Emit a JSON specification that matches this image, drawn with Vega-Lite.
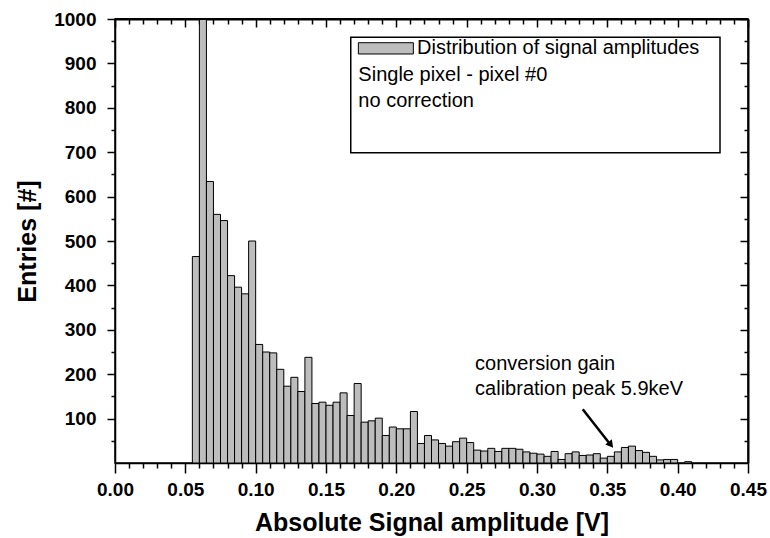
{
  "$schema": "https://vega.github.io/schema/vega-lite/v6.json",
  "width": 633,
  "height": 444,
  "autosize": {"type": "none"},
  "padding": {"left": 115, "top": 19, "right": 22, "bottom": 75},
  "background": "white",
  "config": {
    "view": {"stroke": "black", "strokeWidth": 1.5},
    "font": "Liberation Sans",
    "axis": {"grid": false, "domainColor": "black", "tickColor": "black", "domainWidth": 1.5, "tickWidth": 1.5, "labelColor": "black", "titleColor": "black", "labelFont": "Liberation Sans", "titleFont": "Liberation Sans"}
  },
  "datasets": {
    "hist": [
      {"bin_start": 0.055, "bin_end": 0.060, "entries": 465},
      {"bin_start": 0.060, "bin_end": 0.065, "entries": 1000},
      {"bin_start": 0.065, "bin_end": 0.070, "entries": 634},
      {"bin_start": 0.070, "bin_end": 0.075, "entries": 560},
      {"bin_start": 0.075, "bin_end": 0.080, "entries": 546},
      {"bin_start": 0.080, "bin_end": 0.085, "entries": 422},
      {"bin_start": 0.085, "bin_end": 0.090, "entries": 396},
      {"bin_start": 0.090, "bin_end": 0.095, "entries": 381},
      {"bin_start": 0.095, "bin_end": 0.100, "entries": 500},
      {"bin_start": 0.100, "bin_end": 0.105, "entries": 267},
      {"bin_start": 0.105, "bin_end": 0.110, "entries": 250},
      {"bin_start": 0.110, "bin_end": 0.115, "entries": 248},
      {"bin_start": 0.115, "bin_end": 0.120, "entries": 211},
      {"bin_start": 0.120, "bin_end": 0.125, "entries": 173},
      {"bin_start": 0.125, "bin_end": 0.130, "entries": 193},
      {"bin_start": 0.130, "bin_end": 0.135, "entries": 161},
      {"bin_start": 0.135, "bin_end": 0.140, "entries": 238},
      {"bin_start": 0.140, "bin_end": 0.145, "entries": 134},
      {"bin_start": 0.145, "bin_end": 0.150, "entries": 137},
      {"bin_start": 0.150, "bin_end": 0.155, "entries": 130},
      {"bin_start": 0.155, "bin_end": 0.160, "entries": 137},
      {"bin_start": 0.160, "bin_end": 0.165, "entries": 158},
      {"bin_start": 0.165, "bin_end": 0.170, "entries": 107},
      {"bin_start": 0.170, "bin_end": 0.175, "entries": 179},
      {"bin_start": 0.175, "bin_end": 0.180, "entries": 92},
      {"bin_start": 0.180, "bin_end": 0.185, "entries": 95},
      {"bin_start": 0.185, "bin_end": 0.190, "entries": 101},
      {"bin_start": 0.190, "bin_end": 0.195, "entries": 62},
      {"bin_start": 0.195, "bin_end": 0.200, "entries": 81},
      {"bin_start": 0.200, "bin_end": 0.205, "entries": 77},
      {"bin_start": 0.205, "bin_end": 0.210, "entries": 77},
      {"bin_start": 0.210, "bin_end": 0.215, "entries": 116},
      {"bin_start": 0.215, "bin_end": 0.220, "entries": 44},
      {"bin_start": 0.220, "bin_end": 0.225, "entries": 62},
      {"bin_start": 0.225, "bin_end": 0.230, "entries": 52},
      {"bin_start": 0.230, "bin_end": 0.235, "entries": 44},
      {"bin_start": 0.235, "bin_end": 0.240, "entries": 38},
      {"bin_start": 0.240, "bin_end": 0.245, "entries": 48},
      {"bin_start": 0.245, "bin_end": 0.250, "entries": 56},
      {"bin_start": 0.250, "bin_end": 0.255, "entries": 46},
      {"bin_start": 0.255, "bin_end": 0.260, "entries": 29},
      {"bin_start": 0.260, "bin_end": 0.265, "entries": 27},
      {"bin_start": 0.265, "bin_end": 0.270, "entries": 33},
      {"bin_start": 0.270, "bin_end": 0.275, "entries": 26},
      {"bin_start": 0.275, "bin_end": 0.280, "entries": 33},
      {"bin_start": 0.280, "bin_end": 0.285, "entries": 33},
      {"bin_start": 0.285, "bin_end": 0.290, "entries": 31},
      {"bin_start": 0.290, "bin_end": 0.295, "entries": 25},
      {"bin_start": 0.295, "bin_end": 0.300, "entries": 22},
      {"bin_start": 0.300, "bin_end": 0.305, "entries": 20},
      {"bin_start": 0.305, "bin_end": 0.310, "entries": 15},
      {"bin_start": 0.310, "bin_end": 0.315, "entries": 26},
      {"bin_start": 0.315, "bin_end": 0.320, "entries": 8},
      {"bin_start": 0.320, "bin_end": 0.325, "entries": 21},
      {"bin_start": 0.325, "bin_end": 0.330, "entries": 25},
      {"bin_start": 0.330, "bin_end": 0.335, "entries": 17},
      {"bin_start": 0.335, "bin_end": 0.340, "entries": 18},
      {"bin_start": 0.340, "bin_end": 0.345, "entries": 21},
      {"bin_start": 0.345, "bin_end": 0.350, "entries": 11},
      {"bin_start": 0.350, "bin_end": 0.355, "entries": 15},
      {"bin_start": 0.355, "bin_end": 0.360, "entries": 25},
      {"bin_start": 0.360, "bin_end": 0.365, "entries": 35},
      {"bin_start": 0.365, "bin_end": 0.370, "entries": 38},
      {"bin_start": 0.370, "bin_end": 0.375, "entries": 28},
      {"bin_start": 0.375, "bin_end": 0.380, "entries": 24},
      {"bin_start": 0.380, "bin_end": 0.385, "entries": 15},
      {"bin_start": 0.385, "bin_end": 0.390, "entries": 7},
      {"bin_start": 0.390, "bin_end": 0.395, "entries": 8},
      {"bin_start": 0.395, "bin_end": 0.400, "entries": 8},
      {"bin_start": 0.405, "bin_end": 0.410, "entries": 3}
    ]
  },
  "resolve": {"axis": {"x": "independent", "y": "independent"}},
  "layer": [
    {
      "data": {"name": "hist"},
      "mark": {"type": "rect", "fill": "#bdbdbd", "stroke": "black", "strokeWidth": 1},
      "encoding": {
        "x": {"field": "bin_start", "type": "quantitative", "scale": {"domain": [0, 0.45], "nice": false, "zero": false},
          "axis": {"orient": "bottom",
            "values": [0,0.01,0.02,0.03,0.04,0.05,0.06,0.07,0.08,0.09,0.1,0.11,0.12,0.13,0.14,0.15,0.16,0.17,0.18,0.19,0.2,0.21,0.22,0.23,0.24,0.25,0.26,0.27,0.28,0.29,0.3,0.31,0.32,0.33,0.34,0.35,0.36,0.37,0.38,0.39,0.4,0.41,0.42,0.43,0.44,0.45],
            "labelExpr": "round(datum.value*100) % 5 == 0 ? format(datum.value, '.2f') : ''",
            "tickSize": {"condition": {"test": "round(datum.value*100) % 5 == 0", "value": 10}, "value": 5},
            "domain": true, "labelPadding": 7, "labelFontSize": 19, "labelFontWeight": "bold", "labelFlush": false, "labelOverlap": false,
            "title": "Absolute Signal amplitude [V]", "titleFontSize": 25, "titleFontWeight": "bold", "titleBaseline": "alphabetic", "titleY": 67}},
        "x2": {"field": "bin_end"},
        "y": {"field": "entries", "type": "quantitative", "scale": {"domain": [0, 1000], "nice": false},
          "axis": {"orient": "left",
            "values": [50,100,150,200,250,300,350,400,450,500,550,600,650,700,750,800,850,900,950,1000],
            "labelExpr": "round(datum.value) % 100 == 0 ? format(datum.value, 'd') : ''",
            "tickSize": {"condition": {"test": "round(datum.value) % 100 == 0", "value": 8}, "value": 4},
            "domain": true, "labelPadding": 11, "labelFontSize": 19, "labelFontWeight": "bold", "labelFlush": false, "labelOverlap": false,
            "title": "Entries [#]", "titleFontSize": 25, "titleFontWeight": "bold", "titleX": -88, "titleBaseline": "middle"}},
        "y2": {"datum": 0}
      }
    },
    {
      "data": {"values": [{"line": "conversion gain"}]},
      "mark": {"type": "text", "align": "left", "baseline": "middle", "fontSize": 20, "color": "black"},
      "encoding": {
        "x": {"datum": 0.256, "type": "quantitative",
          "axis": {"orient": "top",
            "values": [0,0.01,0.02,0.03,0.04,0.05,0.06,0.07,0.08,0.09,0.1,0.11,0.12,0.13,0.14,0.15,0.16,0.17,0.18,0.19,0.2,0.21,0.22,0.23,0.24,0.25,0.26,0.27,0.28,0.29,0.3,0.31,0.32,0.33,0.34,0.35,0.36,0.37,0.38,0.39,0.4,0.41,0.42,0.43,0.44,0.45],
            "tickSize": {"condition": {"test": "round(datum.value*100) % 5 == 0", "value": -8}, "value": -5},
            "labels": false, "domain": true, "domainWidth": 2, "title": null}},
        "y": {"datum": 223, "type": "quantitative",
          "axis": {"orient": "right",
            "values": [50,100,150,200,250,300,350,400,450,500,550,600,650,700,750,800,850,900,950,1000],
            "tickSize": {"condition": {"test": "round(datum.value) % 100 == 0", "value": -8}, "value": -4},
            "labels": false, "domain": true, "domainWidth": 2, "title": null}},
        "text": {"field": "line"}
      }
    },
    {
      "data": {"values": [{"what": "top frame"}]},
      "mark": {"type": "rule", "stroke": "black", "strokeWidth": 2},
      "encoding": {
        "x": {"datum": 0, "type": "quantitative", "axis": null},
        "x2": {"datum": 0.45},
        "y": {"datum": 1000, "type": "quantitative", "axis": null}
      }
    },
    {
      "data": {"values": [{"line": "calibration peak 5.9keV"}]},
      "mark": {"type": "text", "align": "left", "baseline": "middle", "fontSize": 20, "color": "black"},
      "encoding": {
        "x": {"datum": 0.256, "type": "quantitative", "axis": null},
        "y": {"datum": 167, "type": "quantitative", "axis": null},
        "text": {"field": "line"}
      }
    },
    {
      "data": {"values": [{"what": "arrow"}]},
      "mark": {"type": "rule", "stroke": "black", "strokeWidth": 2.5},
      "encoding": {
        "x": {"datum": 0.3325, "type": "quantitative", "axis": null},
        "y": {"datum": 121, "type": "quantitative", "axis": null},
        "x2": {"datum": 0.352},
        "y2": {"datum": 42}
      }
    },
    {
      "data": {"values": [{"what": "arrowhead"}]},
      "mark": {"type": "point", "shape": "triangle-up", "filled": true, "color": "black", "size": 70, "angle": 141.7, "opacity": 1},
      "encoding": {
        "x": {"datum": 0.3525, "type": "quantitative", "axis": null},
        "y": {"datum": 41, "type": "quantitative", "axis": null}
      }
    },
    {
      "data": {"values": [{"what": "legend box"}]},
      "mark": {"type": "rect", "fill": "white", "stroke": "black", "strokeWidth": 1.5},
      "encoding": {
        "x": {"datum": 0.1676, "type": "quantitative", "axis": null},
        "x2": {"datum": 0.4301},
        "y": {"datum": 958.8, "type": "quantitative", "axis": null},
        "y2": {"datum": 698.9}
      }
    },
    {
      "data": {"values": [{"what": "legend swatch"}]},
      "mark": {"type": "rect", "fill": "#bdbdbd", "stroke": "black", "strokeWidth": 1},
      "encoding": {
        "x": {"datum": 0.173, "type": "quantitative", "axis": null},
        "x2": {"datum": 0.2121},
        "y": {"datum": 946.6, "type": "quantitative", "axis": null},
        "y2": {"datum": 921.2}
      }
    },
    {
      "data": {"values": [{"line": "Distribution of signal amplitudes"}]},
      "mark": {"type": "text", "align": "left", "baseline": "middle", "fontSize": 20, "color": "black"},
      "encoding": {
        "x": {"datum": 0.2147, "type": "quantitative", "axis": null},
        "y": {"datum": 934, "type": "quantitative", "axis": null},
        "text": {"field": "line"}
      }
    },
    {
      "data": {"values": [{"line": "Single pixel - pixel #0"}]},
      "mark": {"type": "text", "align": "left", "baseline": "middle", "fontSize": 20, "color": "black"},
      "encoding": {
        "x": {"datum": 0.173, "type": "quantitative", "axis": null},
        "y": {"datum": 875, "type": "quantitative", "axis": null},
        "text": {"field": "line"}
      }
    },
    {
      "data": {"values": [{"line": "no correction"}]},
      "mark": {"type": "text", "align": "left", "baseline": "middle", "fontSize": 20, "color": "black"},
      "encoding": {
        "x": {"datum": 0.173, "type": "quantitative", "axis": null},
        "y": {"datum": 815, "type": "quantitative", "axis": null},
        "text": {"field": "line"}
      }
    }
  ]
}
